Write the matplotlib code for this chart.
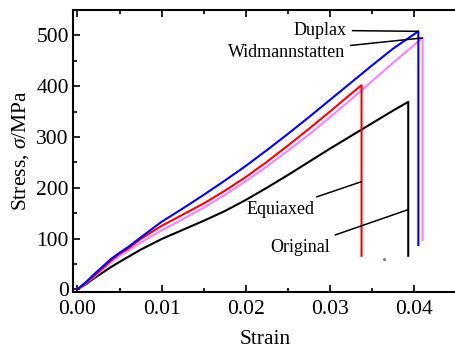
import numpy as np
import matplotlib
matplotlib.use("Agg")
import matplotlib.pyplot as plt
from matplotlib.ticker import MultipleLocator

plt.rcParams['font.family'] = ['Liberation Serif', 'DejaVu Serif']
plt.rcParams['mathtext.fontset'] = 'custom'
plt.rcParams['mathtext.rm'] = 'Liberation Serif'
plt.rcParams['mathtext.it'] = 'Liberation Serif:italic'

# stress-strain curves (strain, MPa); last point is the drop after fracture
duplax_strain = [0.0, 0.001, 0.002, 0.003, 0.004, 0.005, 0.006, 0.0075, 0.01, 0.0125, 0.015,
                 0.0175, 0.02, 0.0225, 0.025, 0.0275, 0.03, 0.0325, 0.035, 0.0375, 0.0405, 0.0405]
duplax_stress = [0, 14, 30, 45, 60, 72, 83, 102, 133, 159, 186,
                 214, 243, 274, 306, 339, 373, 407, 441, 474, 508, 87]

widm_strain = [0.0, 0.001, 0.002, 0.003, 0.004, 0.005, 0.006, 0.0075, 0.01, 0.0125, 0.015,
               0.0175, 0.02, 0.0225, 0.025, 0.0275, 0.03, 0.0325, 0.035, 0.0375, 0.041, 0.041]
widm_stress = [0, 12, 25, 39, 53, 66, 76, 92, 116, 138, 161,
               186, 213, 242, 273, 305, 339, 374, 410, 446, 495, 97]

equi_strain = [0.0, 0.001, 0.002, 0.003, 0.004, 0.005, 0.006, 0.0075, 0.01, 0.0125, 0.015,
               0.0175, 0.02, 0.0225, 0.025, 0.0275, 0.03, 0.0325, 0.03375, 0.03375]
equi_stress = [0, 13, 27, 42, 57, 70, 80, 99, 125, 147, 169,
               194, 221, 251, 283, 316, 350, 385, 402, 66]

orig_strain = [0.0, 0.001, 0.002, 0.003, 0.004, 0.005, 0.0075, 0.01, 0.0125, 0.015,
               0.0175, 0.02, 0.0225, 0.025, 0.0275, 0.03, 0.0325, 0.035, 0.0375, 0.0393, 0.0393]
orig_stress = [0, 10, 22, 33, 44, 54, 78, 99, 117, 135,
               154, 176, 200, 225, 251, 277, 302, 327, 352, 369, 66]

fig = plt.figure(figsize=(4.55, 3.56), dpi=100)
ax = fig.add_axes([0.1604, 0.1798, 0.8436, 0.7921])

lw = 1.5
ax.plot(orig_strain, orig_stress, color='black', lw=lw)
ax.plot(widm_strain, widm_stress, color='#ff80ff', lw=lw)
ax.plot(equi_strain, equi_stress, color='red', lw=lw)
ax.plot(duplax_strain, duplax_stress, color='blue', lw=lw)
ax.plot([0.0364], [59], 'o', color='gray', ms=1.2)

# labels with leader lines
ann = dict(fontsize=13, ha='right', va='center',
           arrowprops=dict(arrowstyle='-', color='black', lw=1.1, shrinkA=2, shrinkB=0))
ax.annotate('Duplax', xy=(0.0405, 508), xytext=(0.0320, 510), **ann)
ax.annotate('Widmannstatten', xy=(0.0410, 495), xytext=(0.03177, 467), **ann)
ax.annotate('Equiaxed', xy=(0.03375, 212), xytext=(0.0282, 158), **ann)
ax.annotate('Original', xy=(0.0393, 157), xytext=(0.0300, 83), **ann)

ax.set_xlim(-0.000534, 0.04507)
ax.set_ylim(-5.3, 550)
ax.xaxis.set_major_locator(MultipleLocator(0.01))
ax.xaxis.set_minor_locator(MultipleLocator(0.005))
ax.yaxis.set_major_locator(MultipleLocator(100))
ax.yaxis.set_minor_locator(MultipleLocator(50))
ax.xaxis.set_major_formatter(matplotlib.ticker.FormatStrFormatter('%.2f'))

ax.tick_params(which='both', direction='in', top=True, right=False, labelsize=15.5, width=1.2)
ax.tick_params(which='major', length=5)
ax.tick_params(which='minor', length=3)
ax.tick_params(axis='x', pad=6)
ax.tick_params(axis='y', pad=3)
for s in ax.spines.values():
    s.set_linewidth(1.5)
ax.spines['right'].set_visible(False)

ax.set_xlabel('Strain', fontsize=15.5, labelpad=8)
ax.set_ylabel(r'Stress, $\sigma$/MPa', fontsize=15.5, labelpad=4)

fig.savefig('out.png', dpi=100)
